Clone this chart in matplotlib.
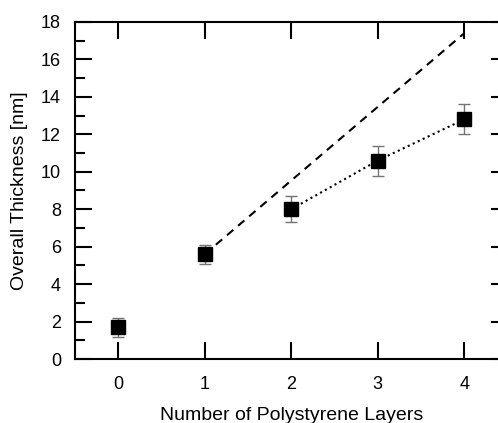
import matplotlib
matplotlib.use("Agg")
import matplotlib.pyplot as plt
from matplotlib.ticker import MultipleLocator

plt.rcParams['font.family'] = ['Liberation Sans', 'DejaVu Sans']

# measured thickness per number of polystyrene layers
layers = [0, 1, 2, 3, 4]
thickness = [1.7, 5.6, 8.0, 10.6, 12.8]
err = [0.5, 0.5, 0.7, 0.8, 0.8]

# expected (linear) growth, dashed
exp_x = [1, 4]
exp_y = [5.6, 17.4]

# measured trend, dotted
fit_x = [2, 3, 4]
fit_y = [8.0, 10.6, 12.8]

fig = plt.figure(figsize=(4.98, 4.23), dpi=100)
ax = fig.add_axes([75/498, 64/423, 432.5/498, 337/423])

ax.plot(exp_x, exp_y, 'k--', lw=1.5, dashes=(4, 3))
ax.plot(fit_x, fit_y, 'k:', lw=1.5)
ax.errorbar(layers, thickness, yerr=err, fmt='s', color='black', ms=10,
            ecolor='0.45', elinewidth=1, capsize=4, capthick=1, zorder=3)

ax.set_xlim(-0.5, 4.5)
ax.set_ylim(0, 18)
ax.xaxis.set_major_locator(MultipleLocator(1))
ax.yaxis.set_major_locator(MultipleLocator(2))
ax.yaxis.set_minor_locator(MultipleLocator(1))
ax.tick_params(which='both', direction='in', top=True, right=True, width=1.5,
               labelsize=13)
ax.tick_params(axis='x', pad=12)
ax.tick_params(axis='y', pad=10)
ax.tick_params(which='major', length=12)
ax.tick_params(which='minor', length=7)
ax.tick_params(axis='x', which='minor', bottom=False, top=False)
for s in ax.spines.values():
    s.set_linewidth(1.5)

ax.set_xlabel('Number of Polystyrene Layers', fontsize=14, labelpad=10)
ax.set_ylabel('Overall Thickness [nm]', fontsize=14, labelpad=9)

fig.savefig('out.png', dpi=100)
